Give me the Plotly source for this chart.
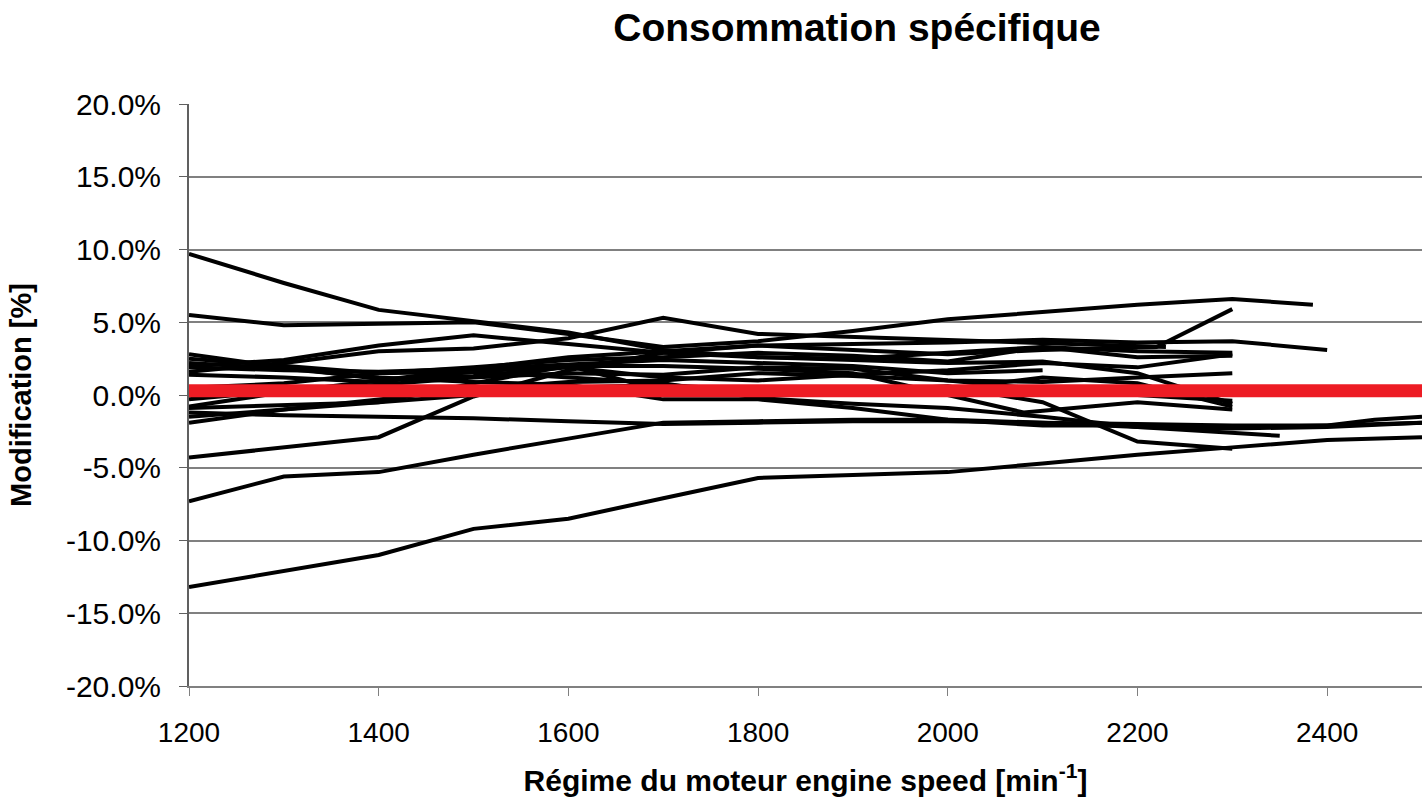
import plotly.graph_objects as go

# engine speed grid (min-1)
rpm = [1200, 1300, 1400, 1500, 1600, 1700, 1800, 1900, 2000, 2100, 2200, 2300]

# specific consumption modification (%) per engine
s01 = [9.7, 7.7, 5.85, 5.1, 4.3, 3.1, 2.6, 2.4, 2.2, 2.3, 1.5, -0.6]
s02_x = [1200, 1300, 1400, 1500, 1600, 1700, 1800, 1900, 2000, 2100, 2200, 2300, 2385]
s02 = [5.5, 4.8, 4.9, 5.0, 4.2, 3.3, 3.7, 4.4, 5.2, 5.7, 6.2, 6.6, 6.2]
s03_x = [1200, 1300, 1400, 1500, 1600, 1700, 1800, 1900, 2000, 2100, 2230]
s03 = [1.6, 2.2, 3.0, 3.2, 3.9, 5.3, 4.2, 4.0, 3.8, 3.6, 3.3]
s04 = [2.0, 2.4, 3.4, 4.1, 3.5, 2.9, 2.6, 2.5, 2.9, 3.3, 3.0, 2.9]
s05_x = [1200, 1300, 1400, 1500, 1600, 1700, 1800, 1900, 2000, 2100, 2220, 2300]
s05 = [-0.8, 0.2, 1.0, 1.8, 2.6, 3.0, 3.4, 3.1, 2.8, 3.1, 3.3, 5.9]
s06_x = [1200, 1300, 1400, 1500, 1600, 1700, 1800, 1900, 2000, 2100, 2200, 2300, 2400]
s06 = [-4.3, -3.6, -2.9, -0.1, 1.7, 2.9, 3.4, 3.5, 3.6, 3.8, 3.6, 3.7, 3.1]
s07_x = [1200, 1300, 1400, 1500, 1600, 1700, 1800, 1900, 2000, 2100, 2200, 2300, 2400, 2450, 2500]
s07 = [-7.3, -5.6, -5.3, -4.1, -3.0, -1.9, -1.8, -1.7, -1.7, -1.9, -2.0, -2.1, -2.1, -1.7, -1.5]
s08_x = [1200, 1300, 1400, 1500, 1600, 1700, 1800, 1900, 2000, 2100, 2200, 2300, 2400, 2500]
s08 = [-13.2, -12.1, -11.0, -9.2, -8.5, -7.1, -5.7, -5.5, -5.3, -4.7, -4.1, -3.6, -3.1, -2.9]
s09 = [2.8, 1.9, 1.1, 1.3, 1.9, 1.2, 1.0, 1.4, 1.7, 2.2, 1.9, 2.8]
s10_x = [1200, 1300, 1400, 1500, 1600, 1700, 1800, 1900, 2000, 2100, 2200, 2300, 2350]
s10 = [2.5, 2.0, 1.5, 1.6, 1.2, 0.8, -0.2, -0.6, -0.9, -1.5, -2.2, -2.6, -2.8]
s11_x = [1200, 1300, 1400, 1500, 1600, 1700, 1800, 1900, 2000, 2100]
s11 = [1.9, 1.7, 1.6, 1.8, 2.1, 2.4, 2.2, 2.0, 1.5, 1.7]
s12_x = [1200, 1300, 1400, 1500, 1600, 1700, 1800, 1900, 2000, 2100, 2200, 2300, 2400, 2500]
s12 = [-1.2, -1.4, -1.5, -1.6, -1.8, -2.0, -1.9, -1.8, -1.8, -1.9, -2.2, -2.3, -2.2, -1.9]
s13 = [-1.5, -1.0, -0.3, 0.4, 0.9, 1.0, 1.5, 1.3, 1.0, 0.9, 1.2, 1.5]
s14 = [-1.9, -1.0, -0.5, 0.0, 0.5, 0.7, 0.3, 0.2, 0.4, 1.2, 0.8, -0.8]
s15 = [-0.3, 0.3, 0.7, 1.2, 1.5, 1.4, 1.9, 1.8, 1.0, 0.4, 0.0, -0.4]
s16_x = [1200, 1300, 1400, 1500, 1600, 1700, 1800, 1900, 2000, 2080, 2200, 2300]
s16 = [1.4, 1.2, 0.9, 1.6, 2.0, 2.0, 1.8, 1.5, 0.0, -1.2, -0.5, -1.0]
s17 = [-0.9, -0.7, -0.5, 0.8, 2.0, 0.3, 0.2, 0.3, 0.6, -0.5, -3.2, -3.7]
s18 = [0.5, 0.8, 1.5, 1.9, 2.4, 2.6, 2.9, 2.7, 2.3, 3.3, 2.6, 2.7]
s19_x = [1200, 1300, 1400, 1500, 1600, 1700, 1800, 1900, 2000, 2100, 2200, 2300, 2400, 2500]
s19 = [2.2, 1.8, 1.2, 0.9, 0.7, -0.3, -0.3, -0.9, -1.7, -2.1, -2.1, -2.2, -2.1, -1.9]

series = [
    (rpm, s01), (s02_x, s02), (s03_x, s03), (rpm, s04), (s05_x, s05),
    (s06_x, s06), (s07_x, s07), (s08_x, s08), (rpm, s09), (s10_x, s10),
    (s11_x, s11), (s12_x, s12), (rpm, s13), (rpm, s14), (rpm, s15),
    (s16_x, s16), (rpm, s17), (rpm, s18), (s19_x, s19),
]

ref_x = [1200, 2500]
ref_y = [0.3, 0.3]

x_ticks = [1200, 1400, 1600, 1800, 2000, 2200, 2400]
y_ticks = [-0.2, -0.15, -0.1, -0.05, 0, 0.05, 0.1, 0.15, 0.2]
y_labels = ["-20.0%", "-15.0%", "-10.0%", "-5.0%", "0.0%", "5.0%", "10.0%", "15.0%", "20.0%"]

fig = go.Figure()
for xs, ys in series:
    fig.add_trace(go.Scatter(x=xs, y=[v / 100 for v in ys], mode="lines",
                             line=dict(color="black", width=4),
                             showlegend=False, hoverinfo="skip"))
fig.add_trace(go.Scatter(x=ref_x, y=[v / 100 for v in ref_y], mode="lines",
                         line=dict(color="#ED1C24", width=13),
                         showlegend=False, hoverinfo="skip"))

font_family = "Liberation Sans, Arial, sans-serif"
fig.update_layout(
    width=1422, height=799,
    margin=dict(l=189, r=0, t=104, b=113),
    paper_bgcolor="white", plot_bgcolor="white",
    font=dict(family=font_family, color="black", size=26),
    title=dict(text="<b>Consommation spécifique</b>", x=857 / 1422, xref="container",
               xanchor="center", y=1 - 27 / 799, yanchor="middle", yref="container",
               font=dict(size=39, family=font_family, color="black")),
    xaxis=dict(range=[1200, 2500], tickmode="array",
               tickvals=x_ticks, ticktext=[str(v) for v in x_ticks],
               showgrid=False, zeroline=False, showline=True, linecolor="#808080",
               linewidth=2, ticks="outside", ticklen=8, tickcolor="#808080",
               tickfont=dict(size=28), ticklabelstandoff=12,
               title=dict(text="<b>Régime du moteur engine speed [min<sup>-1</sup>]</b>",
                          font=dict(size=30), standoff=23)),
    yaxis=dict(range=[-0.2, 0.2], tickmode="array",
               tickvals=y_ticks, ticktext=y_labels,
               showgrid=True, gridcolor="#808080", gridwidth=1.5, zeroline=False,
               showline=True, linecolor="#606060", linewidth=2, ticks="outside",
               ticklen=8, tickcolor="#606060", tickfont=dict(size=30),
               ticklabelstandoff=12,
               title=dict(text="<b>Modification [%]</b>", font=dict(size=29),
                          standoff=26)),
)

fig.write_html("out.html")
